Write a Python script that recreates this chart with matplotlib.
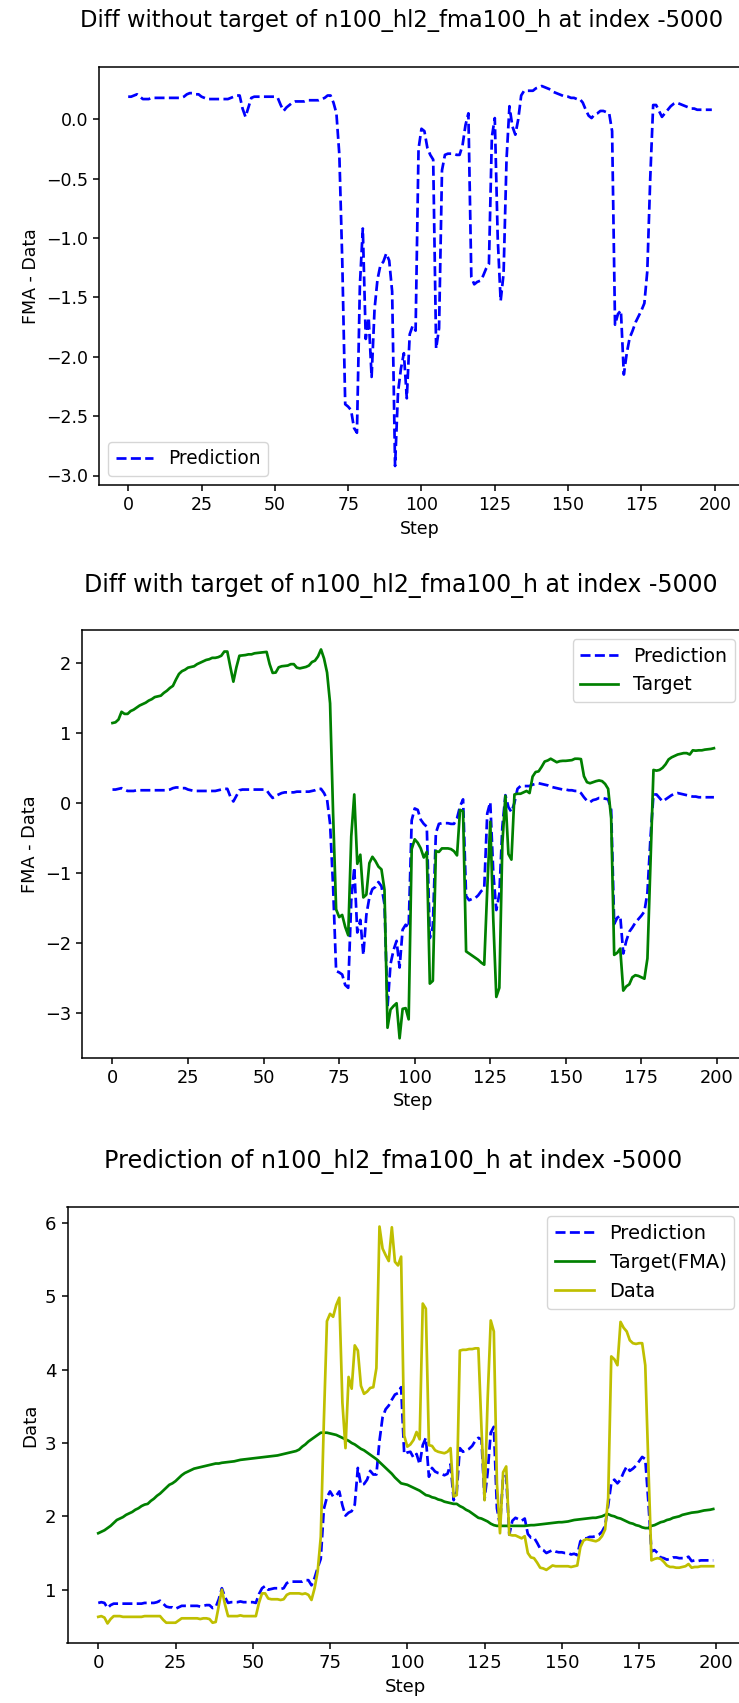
import numpy as np
import matplotlib
matplotlib.use('Agg')
import matplotlib.pyplot as plt

model_name = 'n100_hl2_fma100_h'
start_index = -5000

steps = np.arange(200)

# raw series (panel 3)
data = [
    0.63, 0.64, 0.62, 0.54, 0.60, 0.64, 0.64, 0.64, 0.63, 0.63,
    0.63, 0.63, 0.63, 0.63, 0.63, 0.64, 0.64, 0.64, 0.64, 0.64,
    0.64, 0.59, 0.55, 0.55, 0.55, 0.55, 0.58, 0.61, 0.61, 0.61,
    0.61, 0.61, 0.61, 0.60, 0.61, 0.61, 0.60, 0.55, 0.56, 0.78,
    1.00, 0.80, 0.64, 0.64, 0.64, 0.64, 0.65, 0.64, 0.64, 0.64,
    0.64, 0.64, 0.82, 0.95, 0.95, 0.88, 0.87, 0.87, 0.87, 0.86,
    0.87, 0.93, 0.95, 0.95, 0.95, 0.95, 0.94, 0.95, 0.93, 0.86,
    1.02, 1.25, 1.72, 3.30, 4.66, 4.76, 4.72, 4.88, 4.98, 3.55,
    2.93, 3.90, 3.74, 4.33, 4.26, 3.78, 3.67, 3.70, 3.75, 3.76,
    4.02, 5.95, 5.65, 5.56, 5.48, 5.94, 5.47, 5.42, 5.54, 3.10,
    2.95, 2.98, 3.04, 3.15, 3.05, 4.90, 4.83, 2.97, 2.96, 2.90,
    2.88, 2.87, 2.86, 2.88, 2.93, 2.27, 2.29, 4.26, 4.27, 4.27,
    4.28, 4.28, 4.29, 4.29, 3.20, 2.22, 3.60, 4.67, 4.52, 2.45,
    1.77, 2.60, 2.68, 1.75, 1.74, 1.74, 1.72, 1.70, 1.73, 1.50,
    1.44, 1.43, 1.37, 1.30, 1.29, 1.27, 1.30, 1.33, 1.32, 1.32,
    1.32, 1.32, 1.32, 1.31, 1.32, 1.33, 1.58, 1.67, 1.69, 1.68,
    1.67, 1.66, 1.68, 1.73, 1.82, 2.25, 4.18, 4.14, 4.06, 4.65,
    4.57, 4.52, 4.40, 4.36, 4.35, 4.36, 4.36, 4.06, 2.70, 1.40,
    1.42, 1.43, 1.42, 1.38, 1.33, 1.31, 1.31, 1.30, 1.30, 1.31,
    1.32, 1.35, 1.30, 1.31, 1.31, 1.32, 1.32, 1.32, 1.32, 1.32,
]

fma = [
    1.77, 1.79, 1.81, 1.84, 1.87, 1.91, 1.95, 1.97, 1.99, 2.02,
    2.04, 2.06, 2.09, 2.11, 2.14, 2.16, 2.17, 2.21, 2.24, 2.28,
    2.31, 2.35, 2.39, 2.43, 2.45, 2.48, 2.52, 2.56, 2.59, 2.61,
    2.63, 2.65, 2.66, 2.67, 2.68, 2.69, 2.70, 2.71, 2.72, 2.72,
    2.73, 2.735, 2.74, 2.745, 2.75, 2.76, 2.77, 2.775, 2.78, 2.785,
    2.79, 2.795, 2.80, 2.805, 2.81, 2.815, 2.82, 2.825, 2.83, 2.84,
    2.85, 2.86, 2.87, 2.88, 2.89, 2.91, 2.95, 2.98, 3.02, 3.05,
    3.08, 3.11, 3.14, 3.14, 3.14, 3.13, 3.12, 3.11, 3.09, 3.07,
    3.05, 3.03, 3.00, 2.98, 2.95, 2.92, 2.90, 2.87, 2.84, 2.81,
    2.78, 2.74, 2.70, 2.66, 2.62, 2.58, 2.53, 2.49, 2.45, 2.44,
    2.43, 2.41, 2.39, 2.37, 2.35, 2.32, 2.29, 2.28, 2.26, 2.25,
    2.23, 2.22, 2.20, 2.19, 2.18, 2.17, 2.17, 2.14, 2.12, 2.09,
    2.07, 2.04, 2.01, 1.98, 1.97, 1.95, 1.93, 1.90, 1.88, 1.87,
    1.87, 1.87, 1.87, 1.87, 1.87, 1.87, 1.87, 1.87, 1.87, 1.875,
    1.88, 1.88, 1.885, 1.89, 1.895, 1.90, 1.905, 1.91, 1.915, 1.92,
    1.92, 1.925, 1.93, 1.94, 1.95, 1.955, 1.96, 1.965, 1.97, 1.975,
    1.98, 1.98, 1.99, 2.00, 2.02, 2.03, 2.01, 2.00, 1.98, 1.97,
    1.95, 1.93, 1.91, 1.90, 1.88, 1.87, 1.85, 1.84, 1.84, 1.87,
    1.88, 1.90, 1.92, 1.93, 1.95, 1.96, 1.98, 1.99, 2.00, 2.02,
    2.03, 2.04, 2.05, 2.055, 2.06, 2.07, 2.08, 2.085, 2.09, 2.10,
]

# model output, predicted FMA - Data
pred_diff = [
    0.19, 0.19, 0.20, 0.21, 0.19, 0.17, 0.17, 0.17, 0.18, 0.18,
    0.18, 0.18, 0.18, 0.18, 0.18, 0.18, 0.18, 0.18, 0.18, 0.19,
    0.21, 0.22, 0.22, 0.21, 0.21, 0.19, 0.18, 0.17, 0.17, 0.17,
    0.17, 0.17, 0.17, 0.17, 0.17, 0.18, 0.19, 0.20, 0.20, 0.09,
    0.02, 0.10, 0.18, 0.19, 0.19, 0.19, 0.19, 0.19, 0.19, 0.19,
    0.19, 0.18, 0.12, 0.07, 0.10, 0.12, 0.14, 0.15, 0.15, 0.15,
    0.15, 0.16, 0.16, 0.16, 0.16, 0.16, 0.17, 0.18, 0.20, 0.20,
    0.14, 0.05, -0.30, -1.20, -2.40, -2.42, -2.45, -2.60, -2.64, -1.40,
    -0.92, -1.85, -1.67, -2.17, -1.60, -1.35, -1.23, -1.20, -1.13, -1.19,
    -1.45, -2.92, -2.30, -2.10, -1.97, -2.35, -1.81, -1.74, -1.78, -0.25,
    -0.08, -0.10, -0.24, -0.30, -0.34, -1.93, -1.76, -0.43, -0.30, -0.29,
    -0.29, -0.29, -0.30, -0.30, -0.22, -0.05, 0.05, -1.33, -1.39, -1.37,
    -1.36, -1.32, -1.26, -1.22, -0.15, 0.01, -1.00, -1.53, -1.30, -0.34,
    0.11, -0.06, -0.13, 0.00, 0.20, 0.24, 0.24, 0.24, 0.24, 0.26,
    0.27, 0.28, 0.27, 0.26, 0.25, 0.23, 0.22, 0.21, 0.20, 0.19,
    0.19, 0.18, 0.18, 0.17, 0.17, 0.14, 0.08, 0.03, 0.01, 0.04,
    0.05, 0.07, 0.07, 0.06, 0.05, -0.10, -1.73, -1.64, -1.61, -2.15,
    -1.97, -1.84, -1.78, -1.71, -1.66, -1.61, -1.55, -1.28, -0.50, 0.12,
    0.12, 0.07, 0.02, 0.05, 0.08, 0.11, 0.13, 0.14, 0.13, 0.12,
    0.11, 0.10, 0.09, 0.09, 0.08, 0.08, 0.08, 0.08, 0.08, 0.08,
]

data = np.array(data)
fma = np.array(fma)
pred_diff = np.array(pred_diff)
target_diff = fma - data
prediction = data + pred_diff

W, H = 739, 1703
fig = plt.figure(figsize=(W / 100, H / 100), dpi=100)


def add_panel(left, top, right, bottom):
    return fig.add_axes([left / W, 1 - bottom / H,
                         (right - left) / W, (bottom - top) / H])


def style_axes(ax, fs, title_fs, ylabel, title, tx, pad):
    ax.set_title(title, fontsize=title_fs, x=tx, pad=pad)
    ax.set_xlabel('Step', fontsize=fs)
    ax.set_ylabel(ylabel, fontsize=fs)
    ax.tick_params(labelsize=fs, length=4.5, width=1.1)
    for sp in ax.spines.values():
        sp.set_linewidth(1.1)


lw = 1.95

# Panel 1: diff without target
ax1 = add_panel(99, 67, 741, 485)
ax1.plot(steps, pred_diff, 'b--', lw=lw, label='Prediction')
ax1.legend(loc='lower left', fontsize=13.4)
style_axes(ax1, 12.5, 16.3, 'FMA - Data',
           f'Diff without target of {model_name} at index {start_index}',
           0.472, 29)

# Panel 2: diff with target
ax2 = add_panel(82.4, 630, 744, 1057.7)
ax2.plot(steps, pred_diff, 'b--', lw=lw, label='Prediction')
ax2.plot(steps, target_diff, 'g', lw=lw, label='Target')
ax2.legend(loc='upper right', fontsize=13.6)
style_axes(ax2, 12.8, 17.0, 'FMA - Data',
           f'Diff with target of {model_name} at index {start_index}',
           0.4816, 27.5)

# Panel 3: prediction vs data
ax3 = add_panel(67.5, 1206.7, 744, 1643.3)
ax3.plot(steps, prediction, 'b--', lw=lw, label='Prediction')
ax3.plot(steps, fma, 'g', lw=lw, label='Target(FMA)')
ax3.plot(steps, data, 'y', lw=lw, label='Data')
ax3.legend(loc='upper right', fontsize=14.05)
style_axes(ax3, 13.1, 17.2, 'Data',
           f'Prediction of {model_name} at index {start_index}',
           0.481, 28)

fig.savefig('out.png', dpi=100)
